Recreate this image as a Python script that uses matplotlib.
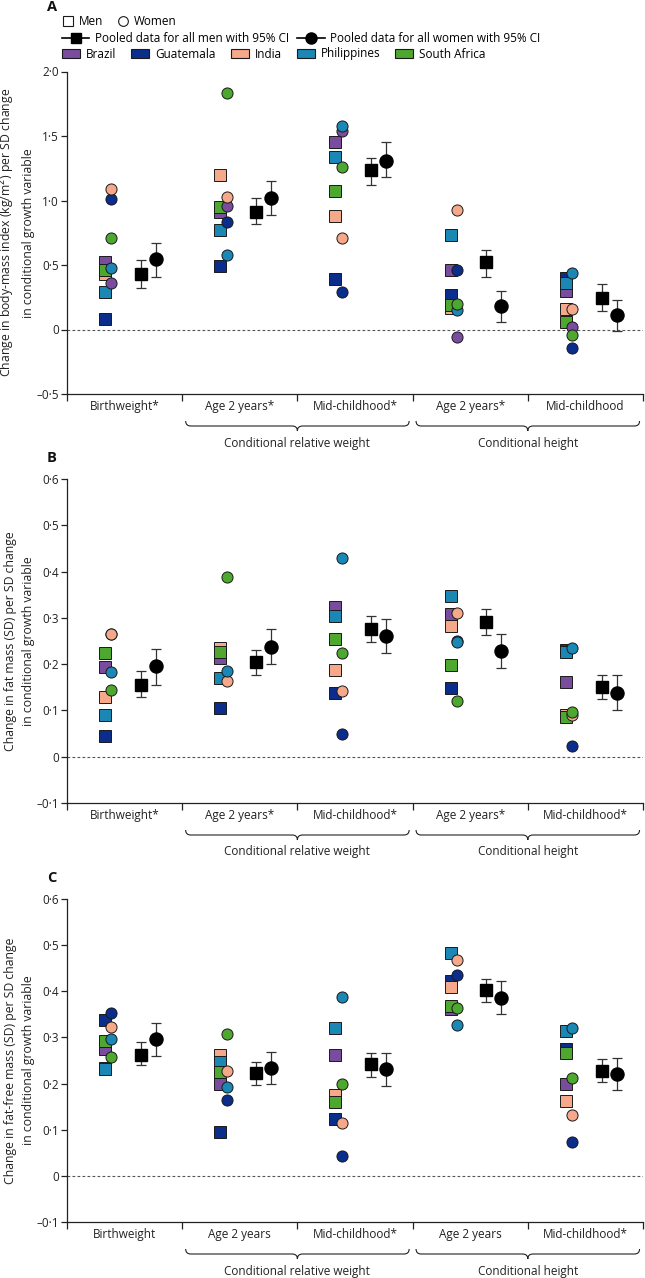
import numpy as np
import matplotlib
matplotlib.use('Agg')
import matplotlib.pyplot as plt
from matplotlib.lines import Line2D
from matplotlib.patches import Patch, PathPatch
from matplotlib.path import Path
from matplotlib.ticker import FixedLocator, FuncFormatter

plt.rcParams['font.family'] = ['Open Sans', 'DejaVu Sans']
plt.rcParams['font.size'] = 8.5

nan = np.nan
countries = ['Brazil', 'Guatemala', 'India', 'Philippines', 'South Africa']
colors = ['#7a4c9e', '#0b2d8c', '#f5a88a', '#1a87b5', '#4ea72e']

# rows = countries (Brazil, Guatemala, India, Philippines, South Africa)
# cols = birthweight, CRW 2y, CRW mid-childhood, CH 2y, CH mid-childhood
bmi_men = [[0.52, 0.91, 1.45, 0.46, 0.30],
           [0.08, 0.49, 0.39, 0.27, 0.40],
           [0.43, 1.20, 0.88, 0.17, 0.16],
           [0.29, 0.77, 1.34, 0.73, 0.36],
           [0.46, 0.95, 1.07, 0.19, 0.06]]
bmi_women = [[0.36, 0.96, 1.54, -0.06, 0.02],
             [1.01, 0.83, 0.29, 0.46, -0.14],
             [1.09, 1.03, 0.71, 0.93, 0.16],
             [0.48, 0.58, 1.58, 0.155, 0.44],
             [0.71, 1.83, 1.26, 0.20, -0.04]]
bmi_pool_men = [0.43, 0.91, 1.235, 0.52, 0.245]
bmi_pool_men_lo = [0.32, 0.82, 1.12, 0.41, 0.14]
bmi_pool_men_hi = [0.54, 1.02, 1.33, 0.62, 0.35]
bmi_pool_women = [0.545, 1.02, 1.31, 0.18, 0.11]
bmi_pool_women_lo = [0.41, 0.89, 1.18, 0.06, -0.01]
bmi_pool_women_hi = [0.67, 1.15, 1.45, 0.30, 0.23]

fm_men = [[0.193, 0.213, 0.323, 0.308, 0.161],
          [0.044, 0.105, 0.138, 0.149, 0.230],
          [0.130, 0.234, 0.187, 0.282, 0.090],
          [0.090, 0.171, 0.303, 0.347, 0.227],
          [0.223, 0.227, 0.254, 0.198, 0.086]]
fm_women = [[nan, nan, nan, nan, nan],
            [0.265, nan, 0.050, 0.250, 0.023],
            [0.265, 0.164, 0.142, 0.310, 0.090],
            [0.184, 0.186, 0.430, 0.247, 0.234],
            [0.144, 0.388, 0.223, 0.121, 0.097]]
fm_pool_men = [0.156, 0.204, 0.275, 0.292, 0.150]
fm_pool_men_lo = [0.130, 0.176, 0.248, 0.264, 0.124]
fm_pool_men_hi = [0.185, 0.230, 0.303, 0.319, 0.176]
fm_pool_women = [0.195, 0.238, 0.261, 0.228, 0.138]
fm_pool_women_lo = [0.155, 0.200, 0.225, 0.191, 0.102]
fm_pool_women_hi = [0.233, 0.277, 0.298, 0.265, 0.176]

ffm_men = [[0.276, 0.199, 0.263, 0.361, 0.200],
           [0.338, 0.095, 0.123, 0.422, 0.275],
           [0.234, 0.262, 0.175, 0.410, 0.163],
           [0.231, 0.247, 0.321, 0.484, 0.314],
           [0.292, 0.224, 0.161, 0.369, 0.266]]
ffm_women = [[nan, nan, nan, nan, nan],
             [0.352, 0.164, 0.042, 0.435, 0.074],
             [0.323, 0.228, 0.114, 0.468, 0.132],
             [0.296, 0.193, 0.388, 0.327, 0.321],
             [0.258, 0.307, 0.200, 0.364, 0.211]]
ffm_pool_men = [0.263, 0.222, 0.242, 0.403, 0.228]
ffm_pool_men_lo = [0.240, 0.197, 0.215, 0.376, 0.203]
ffm_pool_men_hi = [0.291, 0.247, 0.266, 0.426, 0.253]
ffm_pool_women = [0.296, 0.234, 0.231, 0.386, 0.220]
ffm_pool_women_lo = [0.260, 0.198, 0.195, 0.351, 0.186]
ffm_pool_women_hi = [0.332, 0.268, 0.267, 0.422, 0.255]

labels_a = ['Birthweight*', 'Age 2 years*', 'Mid-childhood*', 'Age 2 years*', 'Mid-childhood']
labels_b = ['Birthweight*', 'Age 2 years*', 'Mid-childhood*', 'Age 2 years*', 'Mid-childhood*']
labels_c = ['Birthweight', 'Age 2 years', 'Mid-childhood*', 'Age 2 years', 'Mid-childhood*']
groups = ['Conditional relative weight', 'Conditional height']

W, H = 645, 1278
fig = plt.figure(figsize=(W / 100, H / 100), dpi=100)

EDGE = '#1a1a1a'
FS = 8.5


def fmt(v, pos=None):
    if abs(v) < 1e-9:
        return '0'
    s = '%.1f' % abs(v)
    s = s.replace('.', '\u00b7')
    return ('\u2013' + s) if v < 0 else s


def brace(ax, x0, x1, hpx):
    f = 1.0 / hpx
    ye, yl, yt = -27 * f, -32 * f, -37 * f
    r = 0.045
    xm = (x0 + x1) / 2
    verts = [(x0, ye), (x0, yl), (x0 + r, yl),
             (xm - r, yl), (xm, yl), (xm, yt),
             (xm, yl), (xm + r, yl),
             (x1 - r, yl), (x1, yl), (x1, ye)]
    codes = [Path.MOVETO, Path.CURVE3, Path.CURVE3,
             Path.LINETO, Path.CURVE3, Path.CURVE3,
             Path.CURVE3, Path.CURVE3,
             Path.LINETO, Path.CURVE3, Path.CURVE3]
    p = PathPatch(Path(verts, codes), fc='none', ec='#222222', lw=0.8,
                  transform=ax.get_xaxis_transform(), clip_on=False)
    ax.add_patch(p)


def panel(top, bottom, men, women, pm, pml, pmh, pw, pwl, pwh,
          ylim, yticks, xlabels, ylabel):
    ax = fig.add_axes([67 / W, 1 - bottom / H, (643 - 67) / W, (bottom - top) / H])
    pos = np.arange(5)
    ax.axhline(0, color='#555555', ls=(0, (2.5, 2)), lw=0.8, zorder=1)
    for vals, c in zip(men, colors):
        ax.plot(pos + 0.33, vals, ls='none', marker='s', ms=8, mfc=c,
                mec=EDGE, mew=0.7, zorder=3)
    for vals, c in zip(women, colors):
        ax.plot(pos + 0.385, vals, ls='none', marker='o', ms=8, mfc=c,
                mec=EDGE, mew=0.7, zorder=4)
    pm, pml, pmh = np.array(pm), np.array(pml), np.array(pmh)
    pw, pwl, pwh = np.array(pw), np.array(pwl), np.array(pwh)
    ax.errorbar(pos + 0.64, pm, yerr=[pm - pml, pmh - pm], fmt='s', ms=8.8,
                color='black', ecolor='#333333', elinewidth=0.9, capsize=3.5,
                capthick=0.9, zorder=5)
    ax.errorbar(pos + 0.77, pw, yerr=[pw - pwl, pwh - pw], fmt='o', ms=9.4,
                color='black', ecolor='#333333', elinewidth=0.9, capsize=3.5,
                capthick=0.9, zorder=5)

    ax.set_xlim(0, 5)
    ax.set_ylim(*ylim)
    for s in ['top', 'right']:
        ax.spines[s].set_visible(False)
    for s in ['left', 'bottom']:
        ax.spines[s].set_linewidth(0.9)
        ax.spines[s].set_color('#222222')
    ax.yaxis.set_major_locator(FixedLocator(yticks))
    ax.yaxis.set_major_formatter(FuncFormatter(fmt))
    ax.tick_params(axis='y', length=4, width=0.9, color='#222222', pad=2,
                   labelsize=FS, labelcolor='#222222')
    ax.set_xticks(np.arange(6))
    ax.set_xticklabels([])
    ax.set_xticks(pos + 0.5, minor=True)
    ax.set_xticklabels(xlabels, minor=True)
    ax.tick_params(axis='x', which='major', length=5, width=0.9, color='#222222')
    ax.tick_params(axis='x', which='minor', length=0, pad=4.5, labelsize=FS,
                   labelcolor='#222222')
    ax.set_ylabel(ylabel, fontsize=8.8, linespacing=1.45, color='#222222')
    ax.yaxis.set_label_coords(-0.056, 0.5)

    hpx = bottom - top
    brace(ax, 1.03, 2.97, hpx)
    brace(ax, 3.03, 4.97, hpx)
    for gx, g in zip([2, 4], groups):
        ax.text(gx, -49 / hpx, g, transform=ax.get_xaxis_transform(),
                ha='center', va='center', fontsize=FS, color='#222222')
    return ax


panel(71.5, 394, bmi_men, bmi_women, bmi_pool_men, bmi_pool_men_lo, bmi_pool_men_hi,
      bmi_pool_women, bmi_pool_women_lo, bmi_pool_women_hi,
      (-0.5, 2.0), [-0.5, 0, 0.5, 1.0, 1.5, 2.0], labels_a,
      'Change in body-mass index (kg/m$^2$) per SD change\nin conditional growth variable')
panel(479, 803, fm_men, fm_women, fm_pool_men, fm_pool_men_lo, fm_pool_men_hi,
      fm_pool_women, fm_pool_women_lo, fm_pool_women_hi,
      (-0.1, 0.6), [-0.1, 0, 0.1, 0.2, 0.3, 0.4, 0.5, 0.6], labels_b,
      'Change in fat mass (SD) per SD change\nin conditional growth variable')
panel(899, 1222, ffm_men, ffm_women, ffm_pool_men, ffm_pool_men_lo, ffm_pool_men_hi,
      ffm_pool_women, ffm_pool_women_lo, ffm_pool_women_hi,
      (-0.1, 0.6), [-0.1, 0, 0.1, 0.2, 0.3, 0.4, 0.5, 0.6], labels_c,
      'Change in fat-free mass (SD) per SD change\nin conditional growth variable')

# panel letters
for letter, y in [('A', 7), ('B', 458), ('C', 878)]:
    fig.text(52 / W, 1 - y / H, letter, fontsize=10.5, fontweight='bold',
             ha='center', va='center', color='#111111')

# legends
h1 = [Line2D([], [], ls='none', marker='s', ms=7, mfc='white', mec=EDGE, mew=0.8),
      Line2D([], [], ls='none', marker='o', ms=7, mfc='white', mec=EDGE, mew=0.8)]
fig.legend(h1, ['Men', 'Women'], loc='center left',
           bbox_to_anchor=(62 / W, 1 - 21.7 / H), frameon=False, ncol=2,
           borderpad=0, borderaxespad=0, handlelength=1.0, handletextpad=0.4,
           columnspacing=1.2, fontsize=FS)

h2 = [Line2D([], [], color='black', lw=1.2, marker='s', ms=7.5),
      Line2D([], [], color='black', lw=1.2, marker='o', ms=8)]
fig.legend(h2, ['Pooled data for all men with 95% CI',
                'Pooled data for all women with 95% CI'], loc='center left',
           bbox_to_anchor=(62 / W, 1 - 38.3 / H), frameon=False, ncol=2,
           borderpad=0, borderaxespad=0, handlelength=2.3, handletextpad=0.5,
           columnspacing=0.7, fontsize=FS)

h3 = [Patch(facecolor=c, edgecolor=EDGE, lw=0.8) for c in colors]
fig.legend(h3, countries, loc='center left',
           bbox_to_anchor=(62 / W, 1 - 54 / H), frameon=False, ncol=5,
           borderpad=0, borderaxespad=0, handlelength=1.5, handleheight=0.8,
           handletextpad=0.5, columnspacing=1.3, fontsize=FS)

fig.savefig('out.png', dpi=100)
